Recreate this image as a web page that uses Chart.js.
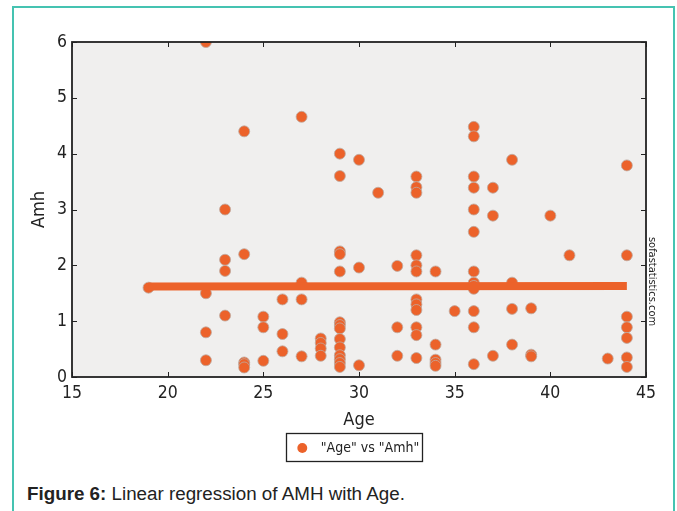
<!DOCTYPE html>
<html lang="en">
<head>
    <meta charset="UTF-8">
    <title>Linear regression of AMH with Age</title>
    <script src="https://cdn.jsdelivr.net/npm/chart.js"></script>
    <style>
        body { margin: 0; background: #fff; }
        #frame {
            position: absolute; left: 12px; top: 6px;
            width: 659px; height: 520px;
            border: 2px solid #45c3b1;
        }
        #wrap { position: absolute; left: 0; top: 0; width: 677px; height: 470px; }
        #caption {
            position: absolute; left: 27px; top: 483px;
            font-family: "Liberation Sans", Arial, sans-serif;
            font-size: 18.8px; line-height: 22px; color: #222;
        }
    </style>
</head>
<body>
    <div id="frame"></div>
    <div id="wrap"><canvas id="myChart" width="677" height="470"></canvas></div>
    <div id="caption"><b>Figure 6:</b> Linear regression of AMH with Age.</div>

    <script>
        // data
        const ageValues = [
            19,
            22, 22, 22, 22,
            23, 23, 23, 23,
            24, 24, 24, 24, 24,
            25, 25, 25,
            26, 26, 26,
            27, 27, 27, 27,
            28, 28, 28, 28,
            29, 29, 29, 29, 29, 29, 29, 29, 29, 29, 29, 29, 29, 29,
            30, 30, 30,
            31,
            32, 32, 32,
            33, 33, 33, 33, 33, 33, 33, 33, 33, 33, 33, 33,
            34, 34, 34, 34, 34,
            35,
            36, 36, 36, 36, 36, 36, 36, 36, 36, 36, 36, 36, 36,
            37, 37, 37,
            38, 38, 38, 38,
            39, 39, 39,
            40,
            41,
            43,
            44, 44, 44, 44, 44, 44, 44
        ];
        const amhValues = [
            1.6,
            6.0, 1.5, 0.8, 0.3,
            3.0, 2.1, 1.9, 1.1,
            4.4, 2.2, 0.26, 0.23, 0.17,
            1.08, 0.89, 0.29,
            1.39, 0.77, 0.46,
            4.66, 1.69, 1.39, 0.37,
            0.69, 0.61, 0.51, 0.38,
            4.0, 3.6, 2.25, 2.2, 1.89, 0.98, 0.93, 0.87, 0.68, 0.53, 0.39, 0.32, 0.25, 0.18,
            3.89, 1.96, 0.21,
            3.3,
            1.99, 0.89, 0.38,
            3.59, 3.4, 3.3, 2.18, 2.0, 1.89, 1.39, 1.3, 1.2, 0.89, 0.75, 0.34,
            1.89, 0.58, 0.31, 0.25, 0.2,
            1.18,
            4.48, 4.31, 3.59, 3.39, 3.0, 2.6, 1.89, 1.69, 1.63, 1.58, 1.18, 0.89, 0.23,
            3.39, 2.89, 0.38,
            3.89, 1.69, 1.22, 0.58,
            1.23, 0.4, 0.37,
            2.89,
            2.18,
            0.33,
            3.79, 2.18, 1.08, 0.89, 0.7, 0.35, 0.18
        ];
        // regression line end points
        const regAge = [19, 44];
        const regAmh = [1.62, 1.63];

        const xTickValues = [15, 20, 25, 30, 35, 40, 45];
        const yTickValues = [0, 1, 2, 3, 4, 5, 6];

        const orange = "rgb(236, 98, 42)";
        const plotBg = "#f0efee";
        const fontFamily = "'DejaVu Sans Condensed', 'DejaVu Sans', sans-serif";
        const tickFont = { family: fontFamily, size: 17.5 };
        const titleFont = { family: fontFamily, size: 18 };

        // 背景・枠・内向きの目盛り・凡例の枠・透かし文字
        const framePlugin = {
            id: "frame",
            beforeDraw(chart) {
                const { ctx, chartArea: a } = chart;
                ctx.save();
                ctx.fillStyle = plotBg;
                ctx.fillRect(a.left, a.top, a.right - a.left, a.bottom - a.top);
                ctx.restore();
            },
            afterDraw(chart) {
                const { ctx, chartArea: a, scales } = chart;
                ctx.save();
                ctx.strokeStyle = "#222";
                ctx.lineWidth = 1;
                ctx.beginPath();
                scales.x.ticks.forEach(t => {
                    const px = Math.round(scales.x.getPixelForValue(t.value)) + 0.5;
                    ctx.moveTo(px, a.bottom); ctx.lineTo(px, a.bottom - 5);
                    ctx.moveTo(px, a.top); ctx.lineTo(px, a.top + 5);
                });
                scales.y.ticks.forEach(t => {
                    const py = Math.round(scales.y.getPixelForValue(t.value)) + 0.5;
                    ctx.moveTo(a.left, py); ctx.lineTo(a.left + 5, py);
                    ctx.moveTo(a.right, py); ctx.lineTo(a.right - 5, py);
                });
                ctx.stroke();
                ctx.lineWidth = 1.8;
                ctx.strokeRect(a.left, a.top, a.right - a.left, a.bottom - a.top);

                // legend box
                const hb = chart.legend.legendHitBoxes[0];
                if (hb) {
                    ctx.lineWidth = 1.3;
                    ctx.strokeRect(Math.round(hb.left - 13) + 0.5, Math.round(hb.top - 8) + 0.5,
                        Math.round(hb.width + 16), 28);
                }

                ctx.translate(a.right + 6, (a.top + a.bottom) / 2 + 72);
                ctx.rotate(Math.PI / 2);
                ctx.fillStyle = "#222";
                ctx.font = "11px " + fontFamily;
                ctx.textAlign = "center";
                ctx.textBaseline = "middle";
                ctx.fillText("sofastatistics.com", 0, 0);
                ctx.restore();
            }
        };

        const ctx = document.getElementById("myChart").getContext("2d");
        const chart = new Chart(ctx, {
            type: "scatter",
            data: {
                datasets: [{
                    label: '"Age" vs "Amh"',
                    data: ageValues.map((a, i) => ({ x: a, y: amhValues[i] })),
                    backgroundColor: orange,
                    borderColor: "rgba(190, 170, 160, 0.8)",
                    borderWidth: 1,
                    pointRadius: 5.5,
                    order: 1
                },
                {
                    label: "regression",
                    data: regAge.map((a, i) => ({ x: a, y: regAmh[i] })),
                    showLine: true,
                    borderColor: orange,
                    backgroundColor: orange,
                    borderWidth: 8,
                    borderCapStyle: "butt",
                    pointRadius: 0,
                    order: 0
                }]
            },
            options: {
                responsive: false,
                animation: false,
                devicePixelRatio: 1,
                layout: { padding: { left: 28, top: 42, right: 31, bottom: 5 } },
                scales: {
                    x: {
                        type: "linear",
                        min: 15, max: 45,
                        afterBuildTicks: s => { s.ticks = xTickValues.map(v => ({ value: v })); },
                        afterFit: s => { s.height = 54; },
                        grid: { display: false, drawTicks: false },
                        border: { display: false },
                        ticks: { font: tickFont, color: "#222", padding: 6, maxRotation: 0 },
                        title: { display: true, text: "Age", font: titleFont, color: "#222", padding: { top: 0, bottom: 0 } }
                    },
                    y: {
                        type: "linear",
                        min: 0, max: 6,
                        afterBuildTicks: s => { s.ticks = yTickValues.map(v => ({ value: v })); },
                        afterFit: s => { s.width = 44; },
                        grid: { display: false, drawTicks: false },
                        border: { display: false },
                        ticks: { font: tickFont, color: "#222", padding: 5 },
                        title: { display: true, text: "Amh", font: titleFont, color: "#222", padding: { top: 1, bottom: 0 } }
                    }
                },
                plugins: {
                    tooltip: { enabled: false },
                    legend: {
                        position: "bottom",
                        fullSize: false,
                        labels: {
                            usePointStyle: true,
                            boxWidth: 7,
                            boxHeight: 7,
                            color: "#222",
                            font: { family: fontFamily, size: 14 },
                            filter: item => item.datasetIndex === 0,
                            generateLabels: c => Chart.defaults.plugins.legend.labels.generateLabels(c)
                                .map(l => ({ ...l, text: "  " + l.text, lineWidth: 0 }))
                        }
                    }
                }
            },
            plugins: [framePlugin]
        });
    </script>
</body>
</html>
